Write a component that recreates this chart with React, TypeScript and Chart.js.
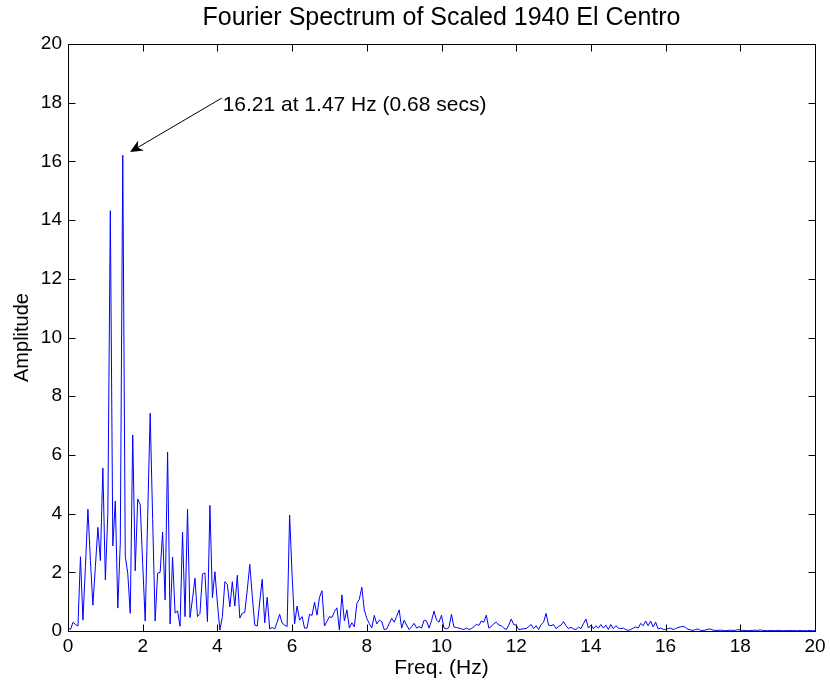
import React, { useEffect, useRef } from 'react';
import { Chart, registerables } from 'chart.js';

Chart.register(...registerables);

const TITLE = 'Fourier Spectrum of Scaled 1940 El Centro';
const X_LABEL = 'Freq. (Hz)';
const Y_LABEL = 'Amplitude';
const X_TICKS = [0, 2, 4, 6, 8, 10, 12, 14, 16, 18, 20];
const Y_TICKS = [0, 2, 4, 6, 8, 10, 12, 14, 16, 18, 20];

// spectral line spacing (Hz) of the FFT grid
const FREQ_STEP = 1 / 15;

// amplitude, one value per spectral line
const AMPLITUDES = [
  0.1, 0.05, 0.3, 0.22, 0.17, 2.53, 0.37, 2.2, 4.15, 2.4,
  0.88, 2.2, 3.53, 2.4, 5.55, 1.74, 4.0, 14.32, 2.9, 4.43,
  0.78, 3.0, 16.21, 2.55, 1.97, 0.6, 6.68, 2.05, 4.5, 4.3,
  2.3, 0.34, 3.9, 7.42, 3.8, 0.34, 1.97, 2.0, 3.37, 1.06,
  6.1, 0.24, 2.52, 0.62, 0.68, 0.16, 3.37, 0.49, 4.15, 0.46,
  1.1, 1.8, 0.49, 0.6, 1.94, 1.98, 0.32, 4.28, 1.13, 2.02,
  0.95, 0.03, 0.49, 1.68, 1.58, 0.82, 1.68, 0.85, 1.9, 0.44,
  0.61, 0.64, 1.4, 2.27, 1.2, 0.2, 0.17, 1.0, 1.76, 0.28,
  1.15, 0.07, 0.12, 0.07, 0.3, 0.57, 0.27, 0.2, 0.15, 3.95,
  1.9, 0.24, 0.85, 0.37, 0.49, 0.1, 0.1, 0.57, 0.53, 0.98,
  0.54, 1.15, 1.37, 0.17, 0.33, 0.49, 0.46, 0.66, 0.79, 0.03,
  1.23, 0.34, 0.72, 0.1, 0.28, 0.14, 0.94, 1.08, 1.49, 0.72,
  0.43, 0.25, 0.1, 0.53, 0.24, 0.37, 0.32, 0.05, 0.07, 0.25,
  0.43, 0.3, 0.5, 0.72, 0.1, 0.37, 0.2, 0.05, 0.15, 0.26,
  0.1, 0.15, 0.1, 0.37, 0.34, 0.1, 0.35, 0.68, 0.37, 0.3,
  0.54, 0.1, 0.07, 0.12, 0.57, 0.14, 0.12, 0.1, 0.07, 0.05,
  0.1, 0.05, 0.08, 0.14, 0.23, 0.19, 0.34, 0.3, 0.54, 0.1,
  0.15, 0.25, 0.3, 0.2, 0.18, 0.1, 0.05, 0.2, 0.41, 0.22,
  0.2, 0.05, 0.06, 0.08, 0.08, 0.15, 0.22, 0.08, 0.18, 0.05,
  0.22, 0.3, 0.6, 0.2, 0.18, 0.22, 0.08, 0.15, 0.2, 0.32,
  0.18, 0.08, 0.13, 0.07, 0.05, 0.13, 0.08, 0.25, 0.41, 0.1,
  0.2, 0.08, 0.18, 0.1, 0.22, 0.1, 0.2, 0.05, 0.22, 0.08,
  0.18, 0.1, 0.08, 0.1, 0.05, 0.02, 0.05, 0.1, 0.14, 0.1,
  0.26, 0.18, 0.34, 0.18, 0.34, 0.14, 0.3, 0.07, 0.1, 0.06,
  0.05, 0.08, 0.1, 0.05, 0.08, 0.12, 0.14, 0.16, 0.12, 0.06,
  0.04, 0.02, 0.05, 0.07, 0.02, 0.02, 0.03, 0.06, 0.07, 0.03,
  0.02, 0.02, 0.03, 0.02, 0.01, 0.02, 0.03, 0.02, 0.02, 0.05,
  0.03, 0.02, 0.02, 0.01, 0.02, 0.02, 0.03, 0.02, 0.04, 0.02,
  0.02, 0.01, 0.02, 0.02, 0.01, 0.02, 0.02, 0.01, 0.01, 0.02,
  0.01, 0.02, 0.01, 0.01, 0.02, 0.01, 0.01, 0.01, 0.02, 0.01,
  0.01,
];

// peak annotation
const PEAK_TEXT = '16.21 at 1.47 Hz (0.68 secs)';
const ARROW_TAIL = { x: 4.12, y: 18.16 };
const ARROW_TIP = { x: 1.66, y: 16.32 };
const TEXT_POS = { x: 4.14, y: 17.9 };

const FONT = "'Liberation Sans', Arial, Helvetica, sans-serif";

const framePlugin = {
  id: 'matlabFrame',
  beforeDraw(chart: any) {
    const ctx = chart.ctx;
    ctx.save();
    ctx.fillStyle = '#ffffff';
    ctx.fillRect(0, 0, chart.width, chart.height);
    ctx.restore();
  },
  afterDraw(chart: any) {
    const { ctx, chartArea } = chart;
    const xs = chart.scales.x;
    const ys = chart.scales.y;
    const L = Math.round(chartArea.left) + 0.5;
    const R = Math.round(chartArea.right) + 0.5;
    const T = Math.round(chartArea.top) + 0.5;
    const B = Math.round(chartArea.bottom) + 0.5;
    const tl = 7;
    ctx.save();
    ctx.strokeStyle = '#000000';
    ctx.lineWidth = 1;
    ctx.beginPath();
    ctx.rect(L, T, R - L, B - T);
    X_TICKS.forEach((v) => {
      const px = Math.round(xs.getPixelForValue(v)) + 0.5;
      ctx.moveTo(px, B);
      ctx.lineTo(px, B - tl);
      ctx.moveTo(px, T);
      ctx.lineTo(px, T + tl);
    });
    Y_TICKS.forEach((v) => {
      const py = Math.round(ys.getPixelForValue(v)) + 0.5;
      ctx.moveTo(L, py);
      ctx.lineTo(L + tl, py);
      ctx.moveTo(R, py);
      ctx.lineTo(R - tl, py);
    });
    ctx.stroke();

    // title centred over the plot box
    ctx.fillStyle = '#000000';
    ctx.font = `25px ${FONT}`;
    ctx.textAlign = 'center';
    ctx.textBaseline = 'middle';
    ctx.fillText(TITLE, (chartArea.left + chartArea.right) / 2, chartArea.top - 26);

    // annotation arrow
    const x0 = xs.getPixelForValue(ARROW_TAIL.x);
    const y0 = ys.getPixelForValue(ARROW_TAIL.y);
    const x1 = xs.getPixelForValue(ARROW_TIP.x);
    const y1 = ys.getPixelForValue(ARROW_TIP.y);
    const ang = Math.atan2(y1 - y0, x1 - x0);
    const headLen = 14;
    const headW = 0.42;
    ctx.beginPath();
    ctx.moveTo(x0, y0);
    ctx.lineTo(x1 - Math.cos(ang) * 8, y1 - Math.sin(ang) * 8);
    ctx.stroke();
    ctx.beginPath();
    ctx.moveTo(x1, y1);
    ctx.lineTo(x1 - headLen * Math.cos(ang - headW), y1 - headLen * Math.sin(ang - headW));
    ctx.lineTo(x1 - 9 * Math.cos(ang), y1 - 9 * Math.sin(ang));
    ctx.lineTo(x1 - headLen * Math.cos(ang + headW), y1 - headLen * Math.sin(ang + headW));
    ctx.closePath();
    ctx.fill();

    ctx.font = `21px ${FONT}`;
    ctx.textAlign = 'left';
    ctx.textBaseline = 'middle';
    ctx.fillText(PEAK_TEXT, xs.getPixelForValue(TEXT_POS.x), ys.getPixelForValue(TEXT_POS.y));
    ctx.restore();
  },
};

export default function App() {
  const ref = useRef<HTMLCanvasElement | null>(null);
  useEffect(() => {
    const canvas = ref.current;
    if (!canvas) return;
    const points = AMPLITUDES.map((a, i) => ({ x: i * FREQ_STEP, y: a }));
    const chart = new Chart(canvas, {
      type: 'line',
      data: {
        datasets: [
          {
            data: points,
            borderColor: '#0000ff',
            borderWidth: 1,
            pointRadius: 0,
            tension: 0,
            fill: false,
          },
        ],
      },
      options: {
        responsive: false,
        animation: false,
        devicePixelRatio: 1,
        layout: { padding: { left: 0, right: 15, top: 44, bottom: 0 } },
        plugins: {
          legend: { display: false },
          tooltip: { enabled: false },
          title: { display: false },
        },
        scales: {
          x: {
            type: 'linear',
            min: 0,
            max: 20,
            grid: { display: false, drawTicks: false },
            border: { display: false },
            ticks: {
              stepSize: 2,
              color: '#000000',
              font: { size: 19, family: FONT },
              padding: 4,
              maxRotation: 0,
              autoSkip: false,
            },
            title: {
              display: true,
              text: X_LABEL,
              color: '#000000',
              font: { size: 21, family: FONT },
              padding: { top: 0, bottom: 10 },
            },
            afterFit: (s: any) => {
              s.height = 60;
            },
          },
          y: {
            type: 'linear',
            min: 0,
            max: 20,
            grid: { display: false, drawTicks: false },
            border: { display: false },
            ticks: {
              stepSize: 2,
              color: '#000000',
              font: { size: 19, family: FONT },
              padding: 6,
              autoSkip: false,
            },
            title: {
              display: true,
              text: Y_LABEL,
              color: '#000000',
              font: { size: 20, family: FONT },
              padding: { top: 10, bottom: 0 },
            },
            afterFit: (s: any) => {
              s.width = 68;
            },
          },
        },
      },
      plugins: [framePlugin],
    });
    return () => chart.destroy();
  }, []);
  return (
    <div style={{ position: 'absolute', left: 0, top: 0, width: 830, height: 691 }}>
      <canvas ref={ref} width={830} height={691} style={{ display: 'block', width: 830, height: 691 }} />
    </div>
  );
}
